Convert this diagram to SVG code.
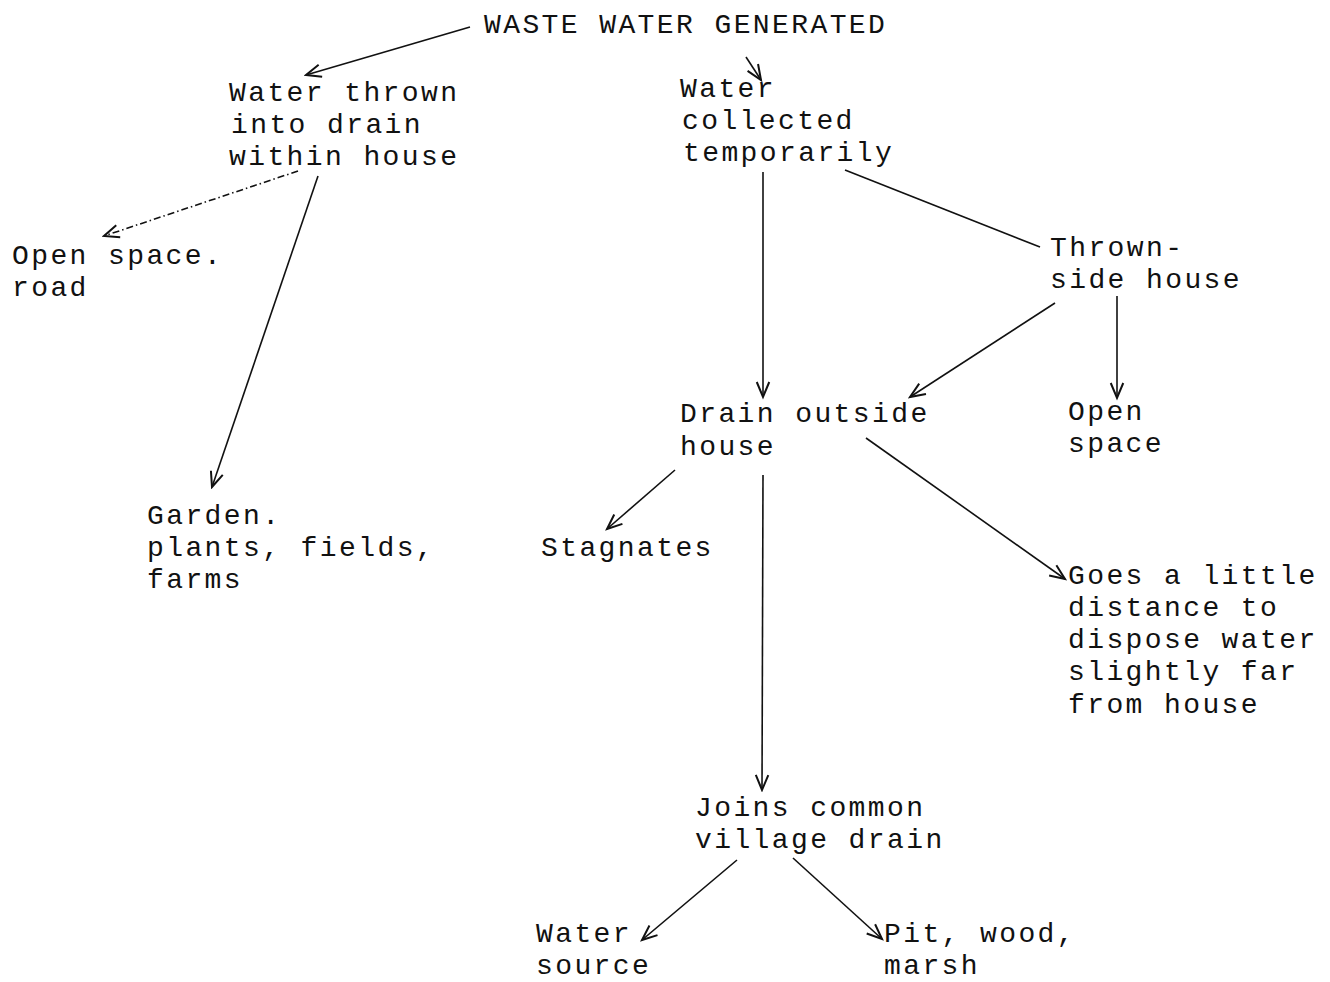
<svg xmlns="http://www.w3.org/2000/svg" width="1330" height="982" viewBox="0 0 1330 982">
<style>
text{font-family:"Liberation Mono","DejaVu Sans Mono",monospace;font-size:28px;letter-spacing:2.4px;fill:#111}
.c line{stroke:#111;stroke-width:1.6;fill:none}
.a{marker-end:url(#ah)}
.dd{stroke-dasharray:7 3 1.5 3}
</style>
<defs>
<marker id="ah" markerUnits="userSpaceOnUse" markerWidth="20" markerHeight="20" refX="0" refY="0" viewBox="-14 -8 16 16" orient="auto">
<path d="M-12,-5 L0,0 L-12,5" fill="none" stroke="#111" stroke-width="1.6"/>
</marker>
</defs>
<rect width="1330" height="982" fill="#fff"/>
<g class="c" id="connectors">
<line class="a" x1="470" y1="27" x2="306" y2="75"/>
<line class="a" x1="746" y1="57" x2="761" y2="80"/>
<line class="a dd" x1="298" y1="171" x2="104" y2="236"/>
<line class="a" x1="318" y1="176" x2="212" y2="487"/>
<line class="a" x1="763" y1="172" x2="763" y2="397"/>
<line x1="845" y1="170" x2="1040" y2="247"/>
<line class="a" x1="1055" y1="303" x2="910" y2="397"/>
<line class="a" x1="1117" y1="296" x2="1117" y2="398"/>
<line class="a" x1="675" y1="470" x2="607" y2="529"/>
<line class="a" x1="763" y1="475" x2="762" y2="790"/>
<line class="a" x1="866" y1="438" x2="1065" y2="579"/>
<line class="a" x1="737" y1="860" x2="642" y2="940"/>
<line class="a" x1="793" y1="858" x2="882" y2="939"/>
</g>
<g id="n-waste"><text x="484" y="33">WASTE WATER GENERATED</text></g>
<g id="n-thrown-drain"><text x="229" y="101">Water thrown</text><text x="231" y="133">into drain</text><text x="229" y="165">within house</text></g>
<g id="n-collected"><text x="680" y="97">Water</text><text x="682" y="129">collected</text><text x="683" y="161">temporarily</text></g>
<g id="n-open-road"><text x="12" y="264">Open space.</text><text x="12" y="296">road</text></g>
<g id="n-thrown-side"><text x="1050" y="256">Thrown-</text><text x="1050" y="288">side house</text></g>
<g id="n-drain-outside"><text x="680" y="422">Drain outside</text><text x="680" y="455">house</text></g>
<g id="n-open-space"><text x="1068" y="420">Open</text><text x="1068" y="452">space</text></g>
<g id="n-garden"><text x="147" y="524">Garden.</text><text x="147" y="556">plants, fields,</text><text x="147" y="588">farms</text></g>
<g id="n-stagnates"><text x="541" y="556">Stagnates</text></g>
<g id="n-goes"><text x="1068" y="584">Goes a little</text><text x="1068" y="616">distance to</text><text x="1068" y="648">dispose water</text><text x="1068" y="680">slightly far</text><text x="1068" y="713">from house</text></g>
<g id="n-joins"><text x="695" y="816">Joins common</text><text x="695" y="848">village drain</text></g>
<g id="n-water-source"><text x="536" y="942">Water</text><text x="536" y="974">source</text></g>
<g id="n-pit"><text x="884" y="942">Pit, wood,</text><text x="884" y="974">marsh</text></g>
</svg>
